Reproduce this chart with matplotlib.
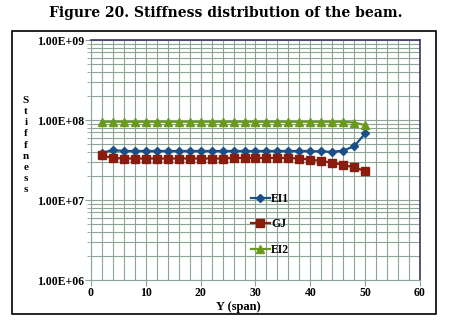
import matplotlib
matplotlib.use("Agg")
import matplotlib.pyplot as plt
from matplotlib.patches import Rectangle
from matplotlib.ticker import LogLocator, FixedLocator, MultipleLocator, NullFormatter

span = [2, 4, 6, 8, 10, 12, 14, 16, 18, 20, 22, 24, 26, 28, 30, 32, 34, 36, 38, 40, 42, 44, 46, 48, 50]
EI1 = [3.9e7, 4.2e7, 4.1e7, 4.1e7, 4.1e7, 4.1e7, 4.1e7, 4.1e7, 4.1e7, 4.1e7, 4.1e7, 4.1e7, 4.1e7,
       4.1e7, 4.1e7, 4.1e7, 4.1e7, 4.1e7, 4.1e7, 4.1e7, 4.05e7, 4.0e7, 4.15e7, 4.7e7, 6.8e7]
GJ = [3.6e7, 3.35e7, 3.3e7, 3.3e7, 3.3e7, 3.3e7, 3.3e7, 3.3e7, 3.3e7, 3.3e7, 3.3e7, 3.3e7, 3.35e7,
      3.35e7, 3.35e7, 3.35e7, 3.35e7, 3.35e7, 3.3e7, 3.2e7, 3.07e7, 2.93e7, 2.74e7, 2.56e7, 2.3e7]
EI2 = [9.5e7, 9.5e7, 9.5e7, 9.5e7, 9.5e7, 9.5e7, 9.5e7, 9.5e7, 9.5e7, 9.5e7, 9.5e7, 9.5e7, 9.5e7,
       9.5e7, 9.5e7, 9.5e7, 9.5e7, 9.5e7, 9.5e7, 9.5e7, 9.5e7, 9.5e7, 9.5e7, 9.3e7, 8.6e7]
ytick_vals = [1e6, 1e7, 1e8, 1e9]
ytick_labels = ["1.00E+06", "1.00E+07", "1.00E+08", "1.00E+09"]
xtick_vals = [0, 10, 20, 30, 40, 50, 60]

plt.rcParams['font.family'] = ['Liberation Serif', 'DejaVu Serif']
plt.rcParams['font.weight'] = 'bold'

fig = plt.figure(figsize=(4.52, 3.24), dpi=100)
fig.patches.append(Rectangle((12/452, 10/324), 424/452, 283/324, transform=fig.transFigure,
                             fill=False, edgecolor='black', linewidth=1.2))

ax = fig.add_axes([91/452, 44/324, 329/452, 240/324])
grid_c = '#8ba494'
ax.set_yscale('log')
ax.set_xlim(0, 60)
ax.set_ylim(1e6, 1e9)
ax.yaxis.set_major_locator(FixedLocator(ytick_vals))
ax.set_yticklabels(ytick_labels)
ax.yaxis.set_minor_locator(LogLocator(base=10, subs=range(2, 10)))
ax.yaxis.set_minor_formatter(NullFormatter())
ax.set_xticks(xtick_vals)
ax.xaxis.set_minor_locator(MultipleLocator(2))
ax.grid(True, which='both', color=grid_c, linewidth=0.8)
ax.set_axisbelow(True)

ax.plot(span, EI1, color='#1b4f8a', marker='D', markersize=4, linewidth=1.6, label='EI1')
ax.plot(span, GJ, color='#8a1c0e', marker='s', markersize=6, linewidth=1.6, label='GJ')
ax.plot(span, EI2, color='#6a9a1c', marker='^', markersize=6, linewidth=1.6, label='EI2')

for s in ['left', 'bottom']:
    ax.spines[s].set_color(grid_c)
for s in ['top', 'right']:
    ax.spines[s].set_color('#3b3568')
    ax.spines[s].set_linewidth(1.2)
ax.tick_params(axis='both', which='major', direction='out', length=4, color=grid_c,
               labelsize=8.5, pad=1)
ax.tick_params(axis='y', which='minor', direction='out', length=3, color=grid_c)
ax.tick_params(axis='x', which='minor', length=0)
for lbl in ax.get_xticklabels() + ax.get_yticklabels():
    lbl.set_fontweight('bold')

fig.text(0.5, 1 - 13/324, "Figure 20. Stiffness distribution of the beam.", ha='center', va='center',
         fontsize=10, fontweight='bold', family='DejaVu Serif')
fig.text(238/452, 1 - 307/324, "Y (span)", ha='center', va='center', fontsize=9, fontweight='bold')
fig.text(26/452, 1 - 145/324, "\n".join("Stiffness"), ha='center', va='center', fontsize=8,
         fontweight='bold', linespacing=1.3)

leg = ax.legend(loc='upper left', bbox_to_anchor=(245/452, 1 - 187/324), bbox_transform=fig.transFigure,
                frameon=False, fontsize=8.5, labelspacing=1.15, handlelength=1.6, handletextpad=0.1,
                borderpad=0, markerscale=0.9)
for t in leg.get_texts():
    t.set_fontweight('bold')

fig.savefig("out.png", dpi=100)
